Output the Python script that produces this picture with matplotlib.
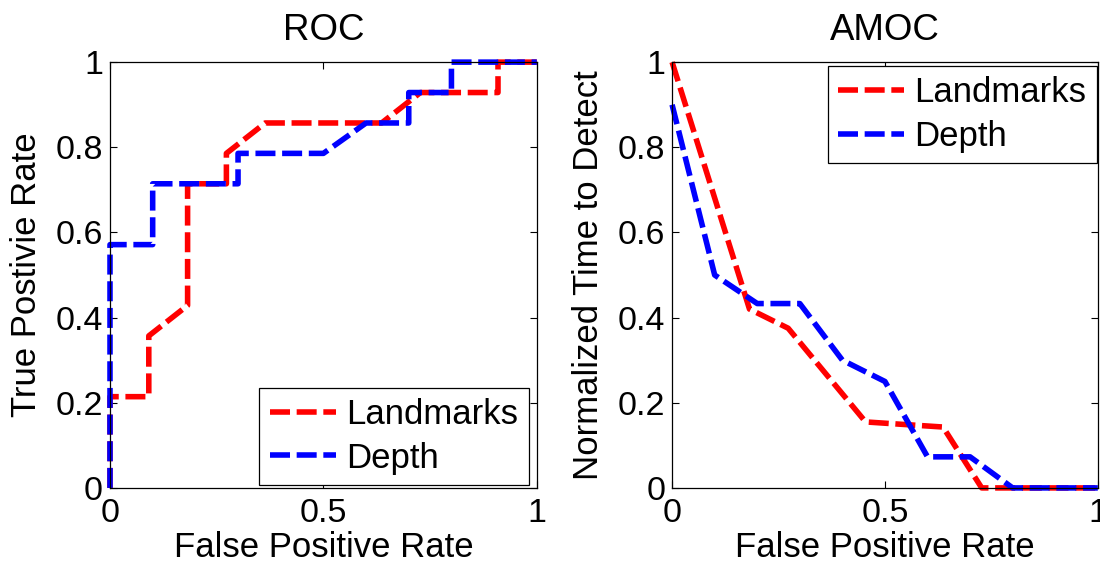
import matplotlib
matplotlib.use('Agg')
import matplotlib.pyplot as plt

plt.rcParams['font.family'] = ['Liberation Sans', 'DejaVu Sans']
plt.rcParams['font.size'] = 22

# ROC curves
roc_land_fpr = [0, 0, 0.0909, 0.0909, 0.1818, 0.1818, 0.2727, 0.2727, 0.3636, 0.6364, 0.7273, 0.9091, 0.9091, 1.0]
roc_land_tpr = [0, 0.2143, 0.2143, 0.3571, 0.4286, 0.7143, 0.7143, 0.7857, 0.8571, 0.8571, 0.9286, 0.9286, 1.0, 1.0]
roc_depth_fpr = [0, 0, 0.1, 0.1, 0.3, 0.3, 0.5, 0.6, 0.7, 0.7, 0.8, 0.8, 1.0]
roc_depth_tpr = [0, 0.5714, 0.5714, 0.7143, 0.7143, 0.7857, 0.7857, 0.8571, 0.8571, 0.9286, 0.9286, 1.0, 1.0]

# AMOC curves
amoc_land_fpr = [0, 0.1818, 0.2727, 0.4545, 0.6364, 0.7273, 1.0]
amoc_land_ttd = [1.0, 0.42, 0.375, 0.155, 0.143, 0, 0]
amoc_depth_fpr = [0, 0.1, 0.2, 0.3, 0.4, 0.5, 0.6, 0.7, 0.8, 1.0]
amoc_depth_ttd = [0.9, 0.5, 0.433, 0.433, 0.3, 0.25, 0.073, 0.073, 0, 0]

labels = ['Landmarks', 'Depth']
xticks = [0, 0.5, 1]
yticks = [0, 0.2, 0.4, 0.6, 0.8, 1]

fig = plt.figure(figsize=(11, 5.7), dpi=100)
ax1 = fig.add_axes([0.1, 0.144, 0.388, 0.747])
ax2 = fig.add_axes([0.611, 0.144, 0.387, 0.747])

lw = 4
dash = (3.6, 1.2)


def fmt(v):
    return '%g' % v


def style(ax, title, ylabel):
    ax.set_xlim(0, 1)
    ax.set_ylim(0, 1)
    ax.set_xticks(xticks)
    ax.set_xticklabels([fmt(v) for v in xticks], fontsize=24.5)
    ax.set_yticks(yticks)
    ax.set_yticklabels([fmt(v) for v in yticks], fontsize=24.5)
    ax.tick_params(direction='in', length=5, width=0.8, top=True, right=True)
    ax.tick_params(axis='x', pad=7)
    ax.tick_params(axis='y', pad=5)
    for s in ax.spines.values():
        s.set_linewidth(0.9)
    ax.set_title(title, pad=16, fontsize=26.4)
    ax.set_xlabel('False Positive Rate', labelpad=2, fontsize=25)
    ax.set_ylabel(ylabel, labelpad=9, fontsize=25)


def legend(ax, loc, anchor):
    leg = ax.legend(loc=loc, bbox_to_anchor=anchor, fontsize=25, fancybox=False,
                    edgecolor='black', framealpha=1, handlelength=1.9, borderaxespad=0,
                    borderpad=0.3, labelspacing=0.3, handletextpad=0.3)
    leg.get_frame().set_linewidth(0.9)


ax1.plot(roc_land_fpr, roc_land_tpr, color='red', lw=lw, dashes=dash, label=labels[0], clip_on=False)
ax1.plot(roc_depth_fpr, roc_depth_tpr, color='blue', lw=lw, dashes=dash, label=labels[1], clip_on=False)
style(ax1, 'ROC', 'True Postivie Rate')
legend(ax1, 'lower right', (0.981, 0.007))

ax2.plot(amoc_land_fpr, amoc_land_ttd, color='red', lw=lw, dashes=dash, label=labels[0], clip_on=False)
ax2.plot(amoc_depth_fpr, amoc_depth_ttd, color='blue', lw=lw, dashes=dash, label=labels[1], clip_on=False)
style(ax2, 'AMOC', 'Normalized Time to Detect')
legend(ax2, 'upper right', (0.998, 0.991))

fig.savefig('out.png', dpi=100)
